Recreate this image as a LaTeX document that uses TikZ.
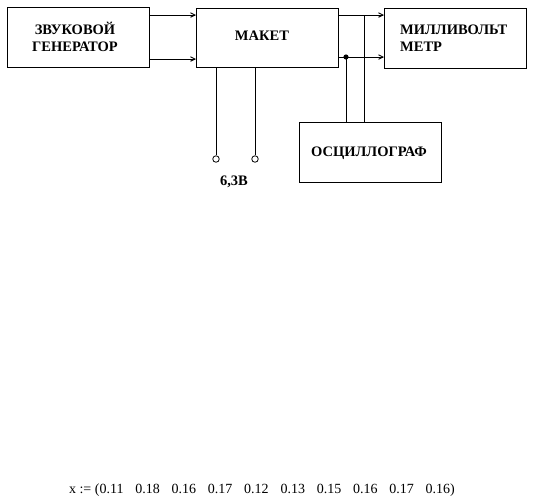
\documentclass[tikz,border=0pt]{standalone}
\usepackage{fontspec}
\setmainfont{Liberation Serif}
\usetikzlibrary{arrows.meta}
\begin{document}
\begin{tikzpicture}[x=1pt,y=-1pt,
  blk/.style={draw,line width=0.9pt,inner sep=0pt},
  lbl/.style={font=\bfseries\fontsize{14.5}{16.5}\selectfont,align=center,inner sep=0pt},
  wire/.style={line width=0.9pt},
  arr/.style={wire,-{Straight Barb[length=4.5pt,width=4.5pt]}},
  term/.style={circle,draw,line width=0.8pt,fill=white,minimum size=6.5pt,inner sep=0pt}]
\useasboundingbox (0,0) rectangle (533,499);
% boxes
\node[blk,minimum width=142pt,minimum height=60pt,anchor=north west] (gen) at (7,7) {};
\node[lbl] (gent) at (75,37) {ЗВУКОВОЙ\\ГЕНЕРАТОР};
\node[blk,minimum width=142pt,minimum height=59pt,anchor=north west] (mak) at (196,8) {};
\node[lbl] (makt) at (262,36) {МАКЕТ};
\node[blk,minimum width=142pt,minimum height=60pt,anchor=north west] (mv) at (384,8) {};
\node[lbl,align=left,anchor=west] (mvt) at (400,38) {МИЛЛИВОЛЬТ\\МЕТР};
\node[blk,minimum width=142pt,minimum height=60pt,anchor=north west] (osc) at (299,122) {};
\node[lbl] (osct) at (369,153) {ОСЦИЛЛОГРАФ};
% gen -> maket
\coordinate (g1) at (149,15); \coordinate (m1) at (196,15);
\coordinate (g2) at (149,59); \coordinate (m2) at (196,59);
\draw[arr] (g1) -- (m1);
\draw[arr] (g2) -- (m2);
% maket -> mv
\coordinate (k1) at (338,15); \coordinate (v1) at (384,15);
\coordinate (k2) at (338,57); \coordinate (v2) at (384,57);
\draw[arr] (k1) -- (v1);
\draw[arr] (k2) -- (v2);
% to oscilloscope
\coordinate (d1) at (346,57); \coordinate (o1) at (346,122);
\coordinate (d2) at (364,15); \coordinate (o2) at (364,122);
\draw[wire] (d1) -- (o1);
\draw[wire] (d2) -- (o2);
\fill (d1) circle (2.6pt);
% terminals
\coordinate (s1) at (216,67); \coordinate (s2) at (255,67);
\node[term] (t1) at (216,159) {};
\node[term] (t2) at (255,159) {};
\draw[wire] (s1) -- (t1);
\draw[wire] (s2) -- (t2);
\node[lbl] (volt) at (234,182) {6,3В};
% bottom formula
\node[font=\fontsize{14}{16}\selectfont,inner sep=0pt] (formula) at (262,490) {x := (0.11\hspace{11.8pt}0.18\hspace{11.8pt}0.16\hspace{11.8pt}0.17\hspace{11.8pt}0.12\hspace{11.8pt}0.13\hspace{11.8pt}0.15\hspace{11.8pt}0.16\hspace{11.8pt}0.17\hspace{11.8pt}0.16)};
\end{tikzpicture}
\end{document}
